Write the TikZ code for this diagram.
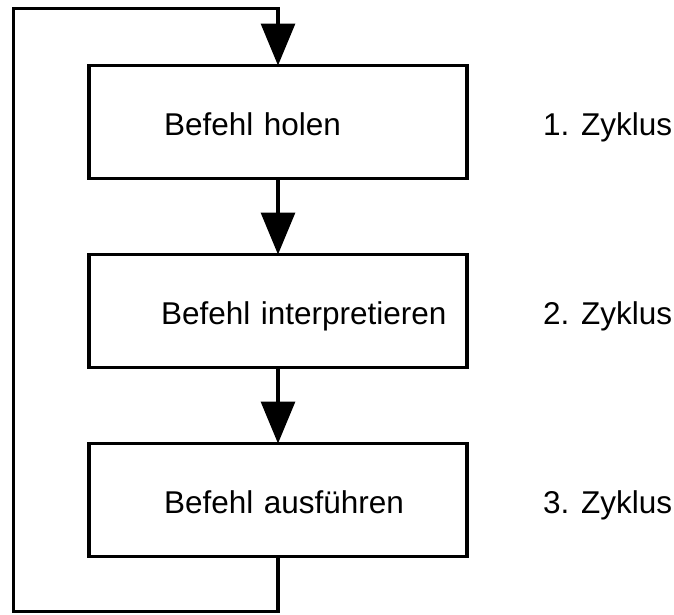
\documentclass[tikz,border=0pt]{standalone}
\usepackage{fontspec}
\setmainfont{Liberation Sans}
\usetikzlibrary{arrows.meta}
\begin{document}
\begin{tikzpicture}[x=1pt,y=-1pt,
  every node/.style={font=\fontsize{31.5pt}{38pt}\selectfont},
  stepbox/.style={draw, line width=3.2pt, minimum width=378pt, minimum height=113pt,
    inner sep=0pt, outer sep=0pt, text width=378pt, align=left,
    text height=26pt, text depth=0pt},
  cyc/.style={anchor=base west, inner sep=0pt},
  conn/.style={line width=3.2pt, line join=miter, -{Triangle[length=42pt,width=34pt]}}
]
\useasboundingbox (0,0) rectangle (674,614);
\node[stepbox] (b1) at (278,122) {\hspace*{75pt}Befehl holen};
\node[stepbox] (b2) at (278,311) {\hspace*{72pt}Befehl interpretieren};
\node[stepbox] (b3) at (278,500) {\hspace*{75pt}Befehl ausführen};
\node[cyc] (z1) at (543,135) {1. Zyklus};
\node[cyc] (z2) at (543,324) {2. Zyklus};
\node[cyc] (z3) at (543,513) {3. Zyklus};
\coordinate (bl) at (13.6,611.8);
\coordinate (tl) at (13.6,8.8);
\draw[conn] (b1.south) -- (b2.north);
\draw[conn] (b2.south) -- (b3.north);
\draw[conn] (b3.south) |- (bl) -- (tl) -| (b1.north);
\end{tikzpicture}
\end{document}
